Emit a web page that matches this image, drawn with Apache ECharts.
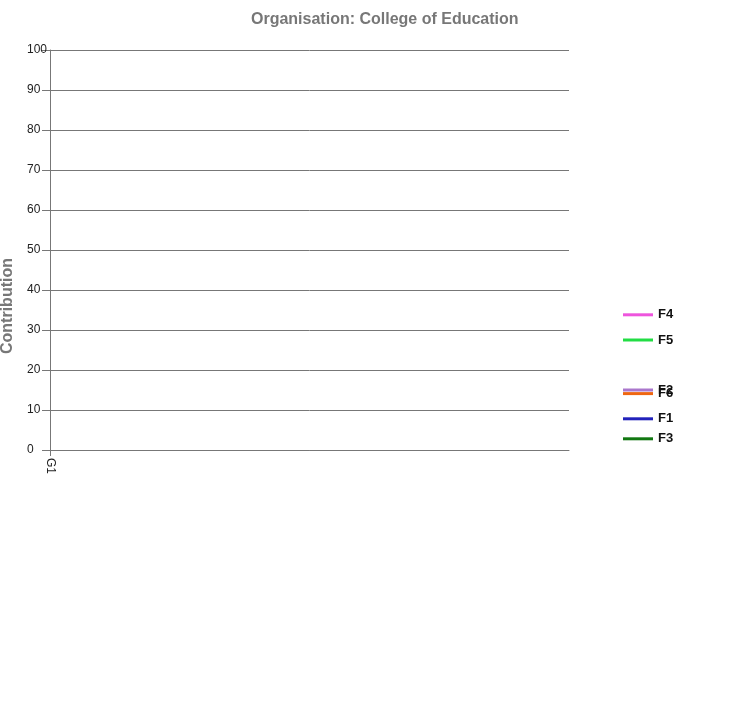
<!DOCTYPE html>
<html><head><meta charset="utf-8">
<script src="https://cdn.jsdelivr.net/npm/echarts@6/dist/echarts.min.js"></script>
<style>html,body{margin:0;padding:0;background:#fff}#c{width:754px;height:710px}</style>
</head><body><div id="c"></div>
<script>
const categories = ['G1'];
const seriesNames = ['F4', 'F5', 'F2', 'F6', 'F1', 'F3'];
const F4 = [33.8];
const F5 = [27.5];
const F2 = [15];
const F6 = [14.1];
const F1 = [7.8];
const F3 = [2.8];
const colors = ['#ee55dd', '#22dd44', '#aa77cc', '#ee6611', '#2222bb', '#117711'];
const values = [F4, F5, F2, F6, F1, F3];

const chart = echarts.init(document.getElementById('c'));
const series = seriesNames.map((n, i) => ({
  name: n,
  type: 'line',
  data: values[i],
  symbol: 'circle',
  showSymbol: true,
  symbolSize: 0.01,
  clip: false,
  lineStyle: { color: colors[i], width: 3 },
  itemStyle: { color: colors[i] },
  label: {
    show: true,
    position: 'right',
    distance: 0,
    offset: [573, 0],
    formatter: '{l|}{t|' + n + '}',
    rich: {
      l: { backgroundColor: colors[i], width: 30, height: 3 },
      t: { color: '#111', fontSize: 13, fontWeight: 'bold', fontFamily: 'Liberation Sans, Arial, sans-serif', padding: [0, 0, 0, 5] }
    }
  },
  emphasis: { disabled: true }
}));

chart.setOption({
  animation: false,
  textStyle: { fontFamily: 'Liberation Sans, Arial, sans-serif' },
  title: {
    text: 'Organisation: College of Education',
    left: 246, top: 7,
    textStyle: { color: '#777', fontSize: 16, fontWeight: 'bold', fontFamily: 'Liberation Sans, Arial, sans-serif' }
  },
  grid: { left: 50, right: 185, top: 50, bottom: 260, containLabel: false },
  xAxis: {
    type: 'category',
    data: categories,
    boundaryGap: false,
    min: 0, max: 1,
    axisLine: { lineStyle: { color: '#777', width: 1 } },
    axisTick: { show: true, length: 6, interval: (idx) => idx === 0, lineStyle: { color: '#777' } },
    axisLabel: { rotate: -90, color: '#222', fontSize: 12, margin: 8, interval: (idx) => idx === 0 },
    splitLine: { show: false }
  },
  yAxis: {
    type: 'value',
    min: 0, max: 100, interval: 10,
    axisLine: { show: true, lineStyle: { color: '#777', width: 1 } },
    axisTick: { show: true, length: 8, lineStyle: { color: '#777' } },
    axisLabel: { color: '#222', fontSize: 12, margin: 23, align: 'left' },
    splitLine: { show: true, lineStyle: { color: '#777', width: 1 } }
  },
  graphic: [{
    type: 'text',
    x: 8, y: 306,
    rotation: Math.PI / 2,
    style: {
      text: 'Contribution',
      fill: '#777',
      font: 'bold 16px Liberation Sans, Arial, sans-serif',
      textAlign: 'center',
      textVerticalAlign: 'middle'
    }
  }],
  series: series
});
</script></body></html>
